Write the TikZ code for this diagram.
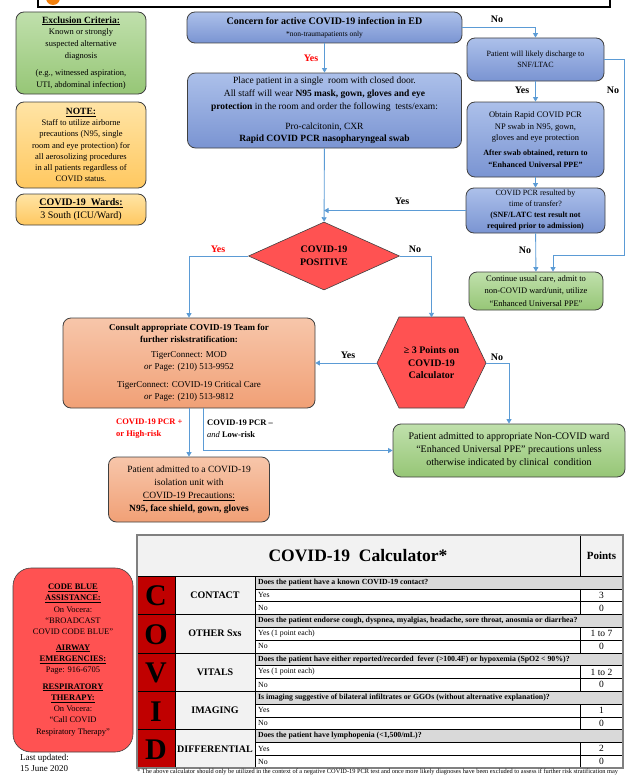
\documentclass[tikz,border=0pt]{standalone}
\usepackage{fontspec}
\setmainfont{Liberation Serif}
\usetikzlibrary{shapes.geometric}
\usetikzlibrary{arrows.meta}
\definecolor{edgegray}{RGB}{64,64,64}
\definecolor{bluetop}{RGB}{172,192,234}
\definecolor{bluebot}{RGB}{122,148,210}
\definecolor{greentop}{RGB}{192,224,172}
\definecolor{greenbot}{RGB}{150,198,118}
\definecolor{yellowtop}{RGB}{255,228,165}
\definecolor{yellowbot}{RGB}{255,200,96}
\definecolor{peachtop}{RGB}{247,198,170}
\definecolor{peachbot}{RGB}{241,160,118}
\definecolor{alarmred}{RGB}{255,82,82}
\definecolor{linkblue}{RGB}{91,155,213}
\definecolor{calcred}{RGB}{192,0,0}
\definecolor{headgray}{RGB}{242,242,242}
\definecolor{qgray}{RGB}{217,217,217}
\newcommand\fs[2]{\fontsize{#1}{#2}\selectfont}
\tikzset{
>={Triangle[length=4.5pt,width=5pt]}, % small filled heads
my box/.style={draw=edgegray,line width=0.8pt,rounded corners=8pt,align=center,inner sep=0pt},
blue box/.style={my box,top color=bluetop,bottom color=bluebot},
green box/.style={my box,top color=greentop,bottom color=greenbot},
yellow box/.style={my box,top color=yellowtop,bottom color=yellowbot},
peach box/.style={my box,top color=peachtop,bottom color=peachbot},
alarm/.style={draw=edgegray,line width=0.6pt,fill=alarmred,align=center,inner sep=0pt},
link/.style={draw=linkblue,line width=0.9pt,->},
tag/.style={font=\bfseries\fs{10}{12},inner sep=0pt},
red tag/.style={tag,text=red},
calc line/.style={black,line width=0.6pt}
}
\begin{document}
\begin{tikzpicture}[x=1pt,y=-1pt]
\useasboundingbox (0,0) rectangle (626,776);
% title bar, cut off at the top
\draw[line width=1.2pt,fill=white] (38,-12) rectangle (610,7);
\fill[orange!80!brown] (53,-2) circle (7);
% left column
\node[green box,minimum width=130pt,minimum height=82pt,font=\fs{8.5}{11.7}] (excl) at (81,53)
  {{\bfseries\fs{9.5}{11.7}\underline{Exclusion Criteria:}}\\Known or strongly\\suspected alternative\\diagnosis\\[6pt](e.g., witnessed aspiration,\\UTI, abdominal infection)};
\node[yellow box,minimum width=130pt,minimum height=86pt,font=\fs{8.5}{11.2}] (note) at (81,145)
  {{\bfseries\fs{9.5}{11.2}\underline{NOTE:}}\\Staff to utilize airborne\\precautions (N95, single\\room and eye protection) for\\all aerosolizing procedures\\in all patients regardless of\\COVID status.};
\node[yellow box,minimum width=130pt,minimum height=31pt,font=\fs{10}{13}] (wards) at (81,209.5)
  {\textbf{\underline{COVID-19\ \ Wards:}}\\3 South (ICU/Ward)};
% main flow
\node[blue box,minimum width=275pt,minimum height=31pt,font=\fs{10}{12}] (concern) at (324.5,27.5)
  {\textbf{Concern for active COVID-19 infection in ED}\\{\fs{7.5}{9}*non-traumapatients only}};
\node[blue box,minimum width=274pt,minimum height=75pt,font=\fs{9.5}{12.8}] (place) at (324.5,110.5)
  {Place patient in a single\ \ room with closed door.\\All staff will wear \textbf{N95 mask, gown, gloves and eye}\\\textbf{protection} in the room and order the following\ \ tests/exam:\\[7pt]Pro-calcitonin, CXR\\\textbf{Rapid COVID PCR nasopharyngeal swab}};
\node[alarm,shape=diamond,aspect=2.2,minimum width=151pt,minimum height=68pt,font=\bfseries\fs{10}{13}] (pos) at (324,256)
  {COVID-19\\POSITIVE};
% right column
\node[blue box,minimum width=137pt,minimum height=43pt,font=\fs{8}{11}] (disch) at (535.5,59.5)
  {Patient will likely discharge to\\SNF/LTAC};
\node[blue box,minimum width=137pt,minimum height=75pt,font=\fs{8.5}{11.5}] (obtain) at (535.5,139.5)
  {Obtain Rapid COVID PCR\\NP swab in N95, gown,\\gloves and eye protection\\[3.5pt]{\bfseries\fs{8}{11}After swab obtained, return to}\\{\bfseries\fs{8}{11}“Enhanced Universal PPE”}};
\node[blue box,minimum width=139pt,minimum height=45pt,font=\fs{8}{11}] (pcr) at (535.5,210.5)
  {COVID PCR resulted by\\time of transfer?\\\textbf{(SNF/LATC test result not}\\\textbf{required prior to admission)}};
\node[green box,minimum width=134pt,minimum height=38pt,font=\fs{8.5}{12.3}] (cont) at (536,291)
  {Continue usual care, admit to\\non-COVID ward/unit, utilize\\“Enhanced Universal PPE”};
% lower flow
\draw[alarm] (377,363) -- (399,317) -- (464,317) -- (486,363) -- (464,408) -- (399,408) -- cycle;
\node[minimum width=109pt,minimum height=91pt,inner sep=0pt,align=center,font=\bfseries\fs{10}{12.5}] (calc) at (431.5,363)
  {≥ 3 Points on\\COVID-19\\Calculator};
\node[peach box,minimum width=252pt,minimum height=90pt,font=\fs{9}{12}] (consult) at (189,363)
  {\textbf{Consult appropriate COVID-19 Team for}\\\textbf{further riskstratification:}\\[3pt]TigerConnect: MOD\\\textit{or} Page: (210) 513-9952\\[6pt]TigerConnect: COVID-19 Critical Care\\\textit{or} Page: (210) 513-9812};
\node[peach box,minimum width=161pt,minimum height=65pt,font=\fs{9.5}{13}] (isol) at (189,489.5)
  {Patient admitted to a COVID-19\\isolation unit with\\\underline{COVID-19 Precautions:}\\\textbf{N95, face shield, gown, gloves}};
\node[green box,minimum width=232pt,minimum height=53pt,font=\fs{10}{13}] (noncov) at (509,450.5)
  {Patient admitted to appropriate Non-COVID ward\\“Enhanced Universal PPE” precautions unless\\otherwise indicated by clinical\ \ condition};
% connectors
\coordinate (bendR) at (624,255);
\draw[link] (concern) -- (place);
\draw[link] (place) -- (pos);
\draw[link] (concern.east) -| (disch.north);
\draw[link] (disch) -- (obtain);
\draw[link] (obtain) -- (pcr);
\draw[link] (pcr.west) -- (pcr.west -| pos.north);
\draw[link] (pcr) -- (cont);
\draw[link] (disch.east) -| (bendR) -| ([xshift=17pt]cont.north);
\draw[link] (pos.west) -| (consult.north);
\draw[link] (pos.east) -| (calc.north);
\draw[link] (calc.west) -- (consult.east);
\draw[link] (calc.east) -| (noncov.north);
\draw[link] (consult) -- (isol);
\draw[link] ([xshift=14pt]consult.south) |- (noncov.west);
% branch labels
\node[red tag] (y1) at (311,58) {Yes};
\node[tag] (n1) at (497,19) {No};
\node[tag] (y2) at (522,90) {Yes};
\node[tag] (n2) at (613,90) {No};
\node[tag] (y3) at (402,201) {Yes};
\node[tag] (n3) at (525,250) {No};
\node[red tag] (y4) at (218,249) {Yes};
\node[tag] (n4) at (415,249) {No};
\node[tag] (y5) at (348,355) {Yes};
\node[tag] (n5) at (497,357) {No};
\node[tag,text=red,anchor=west,align=left,font=\bfseries\fs{8.5}{12}] (hi) at (116,429) {COVID-19 PCR +\\or High-risk};
\node[tag,anchor=west,align=left,font=\bfseries\fs{8.5}{12}] (lo) at (207,429) {COVID-19 PCR –\\{\mdseries\itshape and} Low-risk};
% contacts box
\node[alarm,rounded corners=18pt,minimum width=120pt,minimum height=184pt,font=\fs{8.5}{11.3}] (code) at (73,660)
  {\textbf{\underline{CODE BLUE}}\\\textbf{\underline{ASSISTANCE:}}\\On Vocera:\\“BROADCAST\\COVID CODE BLUE”\\[4pt]\textbf{\underline{AIRWAY}}\\\textbf{\underline{EMERGENCIES:}}\\Page: 916-6705\\[5pt]\textbf{\underline{RESPIRATORY}}\\\textbf{\underline{THERAPY:}}\\On Vocera:\\“Call COVID\\Respiratory Therapy”};
\node[anchor=north west,align=left,inner sep=0pt,font=\fs{9}{11}] (upd) at (20,754) {Last updated:\\15 June 2020};
% calculator table
\fill[headgray] (137,535) rectangle (623,576);
\node[font=\bfseries\fs{17.5}{20}] (ctitle) at (358,556) {COVID-19\ \ Calculator*};
\node[font=\bfseries\fs{11}{13}] (cpts) at (601.5,556) {Points};
\draw[calc line] (580,535) -- (580,576);
\foreach \i/\ltr/\cat/\q/\yes/\p in {
  0/C/CONTACT/{Does the patient have a known COVID-19 contact?}/Yes/3,
  1/O/OTHER Sxs/{Does the patient endorse cough, dyspnea, myalgias, headache, sore throat, anosmia or diarrhea?}/Yes (1 point each)/1 to 7,
  2/V/VITALS/{Does the patient have either reported/recorded\ \ fever (>100.4F) or hypoxemia (SpO2 < 90\%)?}/Yes (1 point each)/1 to 2,
  3/I/IMAGING/{Is imaging suggestive of bilateral infiltrates or GGOs (without alternative explanation)?}/Yes/1,
  4/D/DIFFERENTIAL/{Does the patient have lymphopenia (<1,500/mL)?}/Yes/2}{
  \pgfmathsetmacro\t{576+38.4*\i}
  \fill[calcred] (137,\t) rectangle (175,\t+38.4);
  \fill[headgray] (175,\t) rectangle (255,\t+38.4);
  \fill[qgray] (255,\t) rectangle (623,\t+12.8);
  \draw[calc line] (137,\t) -- (623,\t);
  \draw[calc line] (255,\t+12.8) -- (623,\t+12.8);
  \draw[calc line] (255,\t+25.6) -- (623,\t+25.6);
  \draw[calc line] (580,\t+12.8) -- (580,\t+38.4);
  \node[font=\bfseries\fs{30}{32}] (ltr\i) at (156,\t+20) {\ltr};
  \node[font=\bfseries\fs{10}{12}] (cat\i) at (215,\t+19.2) {\cat};
  \node[anchor=west,inner sep=0pt,font=\bfseries\fs{7.8}{8.5}] (q\i) at (258,\t+6.4) {\q};
  \node[anchor=west,inner sep=0pt,font=\fs{7.8}{8.5}] (yes\i) at (258,\t+19.2) {\yes};
  \node[anchor=west,inner sep=0pt,font=\fs{7.8}{8.5}] (no\i) at (258,\t+32) {No};
  \node[font=\fs{9.5}{10}] (py\i) at (601.5,\t+19.2) {\p};
  \node[font=\fs{9.5}{10}] (pn\i) at (601.5,\t+32) {0};
}
\draw[calc line] (175,576) -- (175,768);
\draw[calc line] (255,576) -- (255,768);
\draw[gray,line width=1.2pt] (137,535) rectangle (623,768);
\node[anchor=west,inner sep=0pt,font=\fs{6.35}{7}] (foot) at (137,772)
  {* The above calculator should only be utilized in the context of a negative COVID-19 PCR test and once more likely diagnoses have been excluded to assess if further risk stratification may};
\end{tikzpicture}
\end{document}
